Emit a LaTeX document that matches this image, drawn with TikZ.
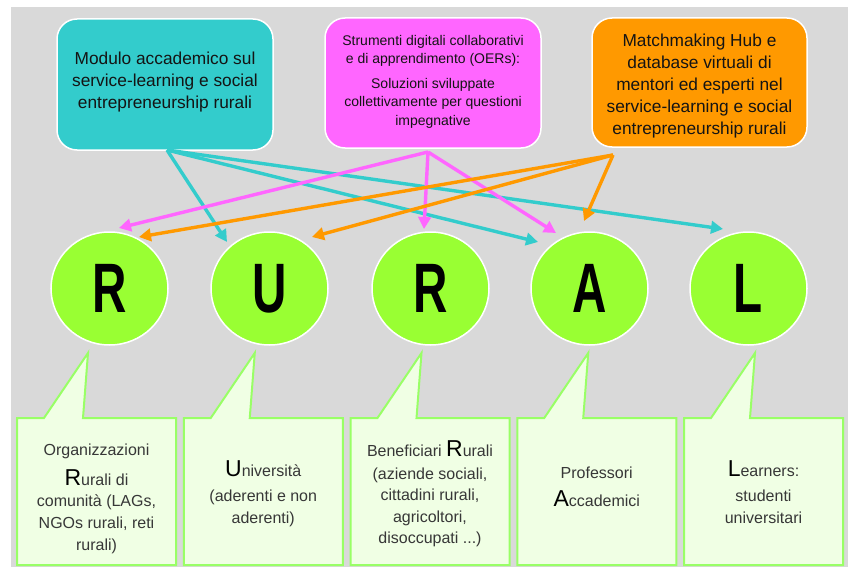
\documentclass[tikz,border=0pt]{standalone}
\usepackage{fontspec}
\setmainfont{Liberation Sans}
\usetikzlibrary{shapes.geometric,arrows.meta}
\definecolor{bg}{RGB}{217,217,217}
\definecolor{tealc}{RGB}{51,204,204}
\definecolor{magc}{RGB}{255,102,255}
\definecolor{orc}{RGB}{255,153,0}
\definecolor{limec}{RGB}{153,255,51}
\definecolor{callfill}{RGB}{240,255,228}
\definecolor{callborder}{RGB}{153,255,102}
\definecolor{txt}{RGB}{20,20,20}
\definecolor{ctxt}{RGB}{55,55,55}
\newcommand\bigini[1]{{\fontsize{23}{23}\selectfont\color{black}#1}}
\newcommand\callshape[1]{\filldraw[callout] (#1,418) -- ++(27,0) -- ++(44,-65) -- ++(-5,65) -- (#1+159,418) -- (#1+159,565) -- (#1,565) -- cycle;}
\begin{document}
\begin{tikzpicture}[x=1pt,y=-1pt,
 topbox/.style={rectangle, rounded corners=20pt, draw=white, line width=1.5pt, inner sep=0pt},
 toptext/.style={align=center, text=txt, font=\fontsize{17.3}{22}\selectfont, inner sep=0pt, anchor=north},
 smalltext/.style={align=center, text=txt, font=\fontsize{14}{18.2}\selectfont, inner sep=0pt, anchor=north},
 circ/.style={ellipse, minimum width=117pt, minimum height=113pt, fill=limec, draw=white, line width=1.5pt, inner sep=0pt, font=\fontsize{70}{70}\selectfont\bfseries},
 callout/.style={fill=callfill, draw=callborder, line width=2pt},
 ctext/.style={align=center, text=ctxt, font=\fontsize{16}{21.6}\selectfont, inner sep=0pt, anchor=north},
 arr/.style={line width=3.4pt, -{Triangle[length=12pt,width=12.5pt]}},
]
\useasboundingbox (0,0) rectangle (848,567);
\fill[white] (0,0) rectangle (848,567);
\fill[bg] (11,7) rectangle (848,567);

% top boxes
\node[topbox, fill=tealc, minimum width=216pt, minimum height=131pt] (m1) at (165,84.5) {};
\node[topbox, fill=magc, minimum width=216pt, minimum height=130pt] (m2) at (433,83) {};
\node[topbox, fill=orc, minimum width=215pt, minimum height=129pt] (m3) at (699.5,82.5) {};
\node[toptext] (t1) at (165,51.7) {Modulo accademico sul\\service-learning e social\\entrepreneurship rurali};
\node[smalltext] (t2) at (433,35) {Strumenti digitali collaborativi\\e di apprendimento (OERs):\\[7pt]Soluzioni sviluppate\\collettivamente per questioni\\impegnative};
\node[toptext] (t3) at (699.5,33.3) {Matchmaking Hub e\\database virtuali di\\mentori ed esperti nel\\service-learning e social\\entrepreneurship rurali};

% circles
\node[circ] (c1) at (109.5,288.5) {\scalebox{0.68}[1]{R}};
\node[circ] (c2) at (269.5,288.5) {\scalebox{0.68}[1]{U}};
\node[circ] (c3) at (430.5,288.5) {\scalebox{0.68}[1]{R}};
\node[circ] (c4) at (589.5,288.5) {\scalebox{0.68}[1]{A}};
\node[circ] (c5) at (748.5,288.5) {\scalebox{0.68}[1]{L}};

% arrow origins and tips
\coordinate (tO) at (167,150);
\coordinate (mO) at (428,152);
\coordinate (oO) at (613,155);
\coordinate (tU) at (227,242);
\coordinate (tA) at (538,242);
\coordinate (tL) at (723,229);
\coordinate (mR1) at (119,228);
\coordinate (mR2) at (424,229);
\coordinate (mA) at (556,233);
\coordinate (oR1) at (139,237);
\coordinate (oU) at (312,237);
\coordinate (oA) at (584,221);

\draw[arr, tealc] (tO) -- (tU);
\draw[arr, tealc] (tO) -- (tA);
\draw[arr, tealc] (tO) -- (tL);
\draw[arr, magc] (mO) -- (mR1);
\draw[arr, magc] (mO) -- (mR2);
\draw[arr, magc] (mO) -- (mA);
\draw[arr, orc] (oO) -- (oR1);
\draw[arr, orc] (oO) -- (oU);
\draw[arr, orc] (oO) -- (oA);

% callouts
\callshape{17}
\callshape{183.75}
\callshape{350.5}
\callshape{517.25}
\callshape{684}

\node[ctext] (b1) at (96.5,443.5) {Organizzazioni\\[8.5pt]\bigini{R}urali di\\comunità (LAGs,\\NGOs rurali, reti\\rurali)};
\node[ctext] (b2) at (263.25,460.5) {\bigini{U}niversità\\[3.5pt](aderenti e non\\aderenti)};
\node[ctext] (b3) at (430,440) {Beneficiari \bigini{R}urali\\[1.5pt](aziende sociali,\\cittadini rurali,\\agricoltori,\\disoccupati ...)};
\node[ctext] (b4) at (596.75,466.5) {Professori\\[7pt]\bigini{A}ccademici};
\node[ctext] (b5) at (763.5,460.5) {\bigini{L}earners:\\[3.5pt]studenti\\universitari};
\end{tikzpicture}
\end{document}
